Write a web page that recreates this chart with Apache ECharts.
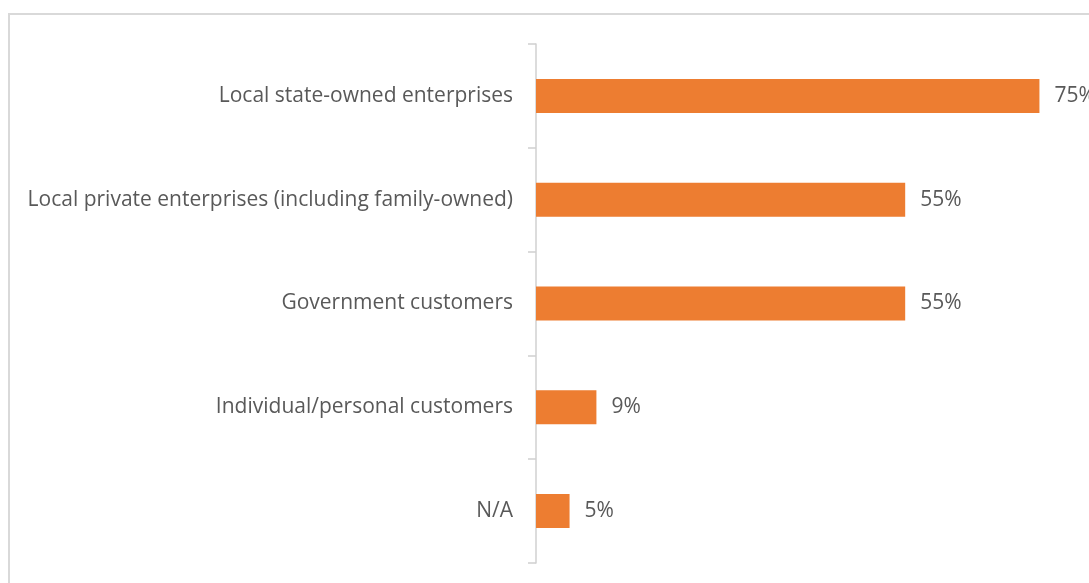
<!DOCTYPE html>
<html>
<head>
<meta charset="utf-8">
<style>
  html, body { margin: 0; padding: 0; background: #fff; }
  #chart { width: 1089px; height: 583px; }
</style>
<script src="https://cdn.jsdelivr.net/npm/echarts@6/dist/echarts.min.js"></script>
</head>
<body>
<div id="chart"></div>
<script>
// Customer types, listed top to bottom
const categories = [
  'Local state-owned enterprises',
  'Local private enterprises (including family-owned)',
  'Government customers',
  'Individual/personal customers',
  'N/A'
];
// Share of respondents, percent
const shares = [75, 55, 55, 9, 5];

const chart = echarts.init(document.getElementById('chart'), null, { renderer: 'canvas' });

chart.setOption({
  animation: false,
  backgroundColor: '#ffffff',
  graphic: [{
    type: 'rect',
    shape: { x: 9, y: 14, width: 1200, height: 700 },
    style: { fill: 'none', stroke: '#d9d9d9', lineWidth: 2 },
    silent: true
  }],
  grid: { left: 536, right: 16, top: 44, bottom: 20, containLabel: false },
  xAxis: {
    type: 'value',
    min: 0,
    max: 80,
    show: false
  },
  yAxis: {
    type: 'category',
    data: categories,
    inverse: true,
    axisLine: { show: true, lineStyle: { color: '#d0d0d0', width: 1.5 } },
    axisTick: { show: true, length: 8, lineStyle: { color: '#d0d0d0', width: 1.5 } },
    axisLabel: {
      margin: 23,
      color: '#595959',
      fontFamily: 'Open Sans',
      fontSize: 21,
      padding: [4, 0, 0, 0]
    },
    splitLine: { show: false }
  },
  series: [{
    type: 'bar',
    data: shares,
    barWidth: 34,
    itemStyle: { color: '#ED7D31' },
    label: {
      show: true,
      position: 'right',
      distance: 15,
      formatter: '{c}%',
      color: '#595959',
      fontFamily: 'Open Sans',
      fontSize: 21,
      padding: [4, 0, 0, 0]
    }
  }]
});
</script>
</body>
</html>
